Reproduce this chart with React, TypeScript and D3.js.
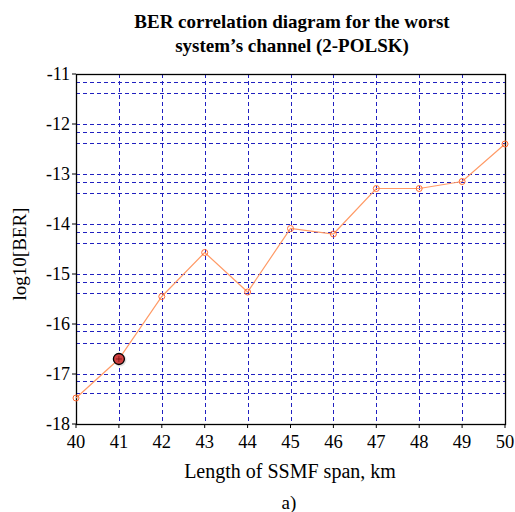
import React from "react";
import * as d3 from "d3";

const xValues = [40, 41, 42, 43, 44, 45, 46, 47, 48, 49, 50];
const berLog = [-17.48, -16.7, -15.45, -14.57, -15.36, -14.09, -14.2, -13.29, -13.29, -13.15, -12.4];
const highlightIndex = 1;
const yTicks = [-11, -12, -13, -14, -15, -16, -17, -18];
const minorOffsets = [0.15, 0.38];

export default function App() {
  const W = 515, H = 512;
  const x = d3.scaleLinear().domain([40, 50]).range([76, 505]);
  const y = d3.scaleLinear().domain([-18, -11]).range([424, 74]);
  const hLines: number[] = [];
  for (let v = -11; v > -18; v--) {
    if (v !== -11) hLines.push(v);
    minorOffsets.forEach((o) => hLines.push(v - o));
  }
  const line = d3.line<number>().x((_, i) => x(xValues[i])).y((d) => y(d));
  const font = "'Liberation Serif', 'Times New Roman', Times, serif";
  const hx = x(xValues[highlightIndex]);
  const hy = y(berLog[highlightIndex]);
  const gridColor = "#2020c0";
  return (
    <svg width={W} height={H} style={{ position: "absolute", left: 0, top: 0, fontFamily: font }}>
      <rect width={W} height={H} fill="white" />
      <text x={292} y={28} textAnchor="middle" fontWeight="bold" fontSize={19}>BER correlation diagram for the worst</text>
      <text x={292} y={52} textAnchor="middle" fontWeight="bold" fontSize={19}>system’s channel (2-POLSK)</text>
      {hLines.map((v, i) => (
        <line key={"h" + i} x1={76} x2={505} y1={Math.round(y(v)) + 0.5} y2={Math.round(y(v)) + 0.5}
          stroke={gridColor} strokeWidth={1} strokeDasharray="4,3" />
      ))}
      {xValues.slice(1, -1).map((v) => (
        <line key={"v" + v} x1={Math.round(x(v)) + 0.5} x2={Math.round(x(v)) + 0.5} y1={74} y2={424} stroke={gridColor} strokeWidth={1} strokeDasharray="4,3" />
      ))}
      <rect x={76.5} y={74.5} width={429} height={350} fill="none" stroke="black" strokeWidth={1.3} />
      {yTicks.map((v) => (
        <g key={"yt" + v}>
          <line x1={72} x2={76} y1={y(v)} y2={y(v)} stroke="black" />
          <text x={70} y={y(v) + 6} textAnchor="end" fontSize={18}>{v}</text>
        </g>
      ))}
      {xValues.map((v) => (
        <g key={"xt" + v}>
          <line x1={x(v)} x2={x(v)} y1={424} y2={428} stroke="black" />
          <text x={x(v)} y={448} textAnchor="middle" fontSize={18.5}>{v}</text>
        </g>
      ))}
      <path d={line(berLog) || ""} fill="none" stroke="#ff9a66" strokeWidth={1.2} />
      {berLog.map((v, i) => (
        i === highlightIndex ? null :
        <circle key={"p" + i} cx={x(xValues[i])} cy={y(v)} r={3} fill="none" stroke="#ff6a33" strokeWidth={1} />
      ))}
      <g>
        <circle cx={hx + 1} cy={hy + 1} r={6.5} fill="#cccccc" opacity={0.6} />
        <circle cx={hx} cy={hy} r={5.5} fill="#d04040" stroke="black" strokeWidth={1.3} />
        <line x1={hx - 3} x2={hx + 3} y1={hy} y2={hy} stroke="#7a1010" strokeWidth={0.8} />
        <line x1={hx} x2={hx} y1={hy - 3} y2={hy + 3} stroke="#7a1010" strokeWidth={0.8} />
      </g>
      <text x={290} y={478} textAnchor="middle" fontSize={20}>Length of SSMF span, km</text>
      <text x={289} y={509} textAnchor="middle" fontSize={19}>a)</text>
      <text transform="translate(26,254) rotate(-90)" textAnchor="middle" fontSize={19}>log10[BER]</text>
    </svg>
  );
}
